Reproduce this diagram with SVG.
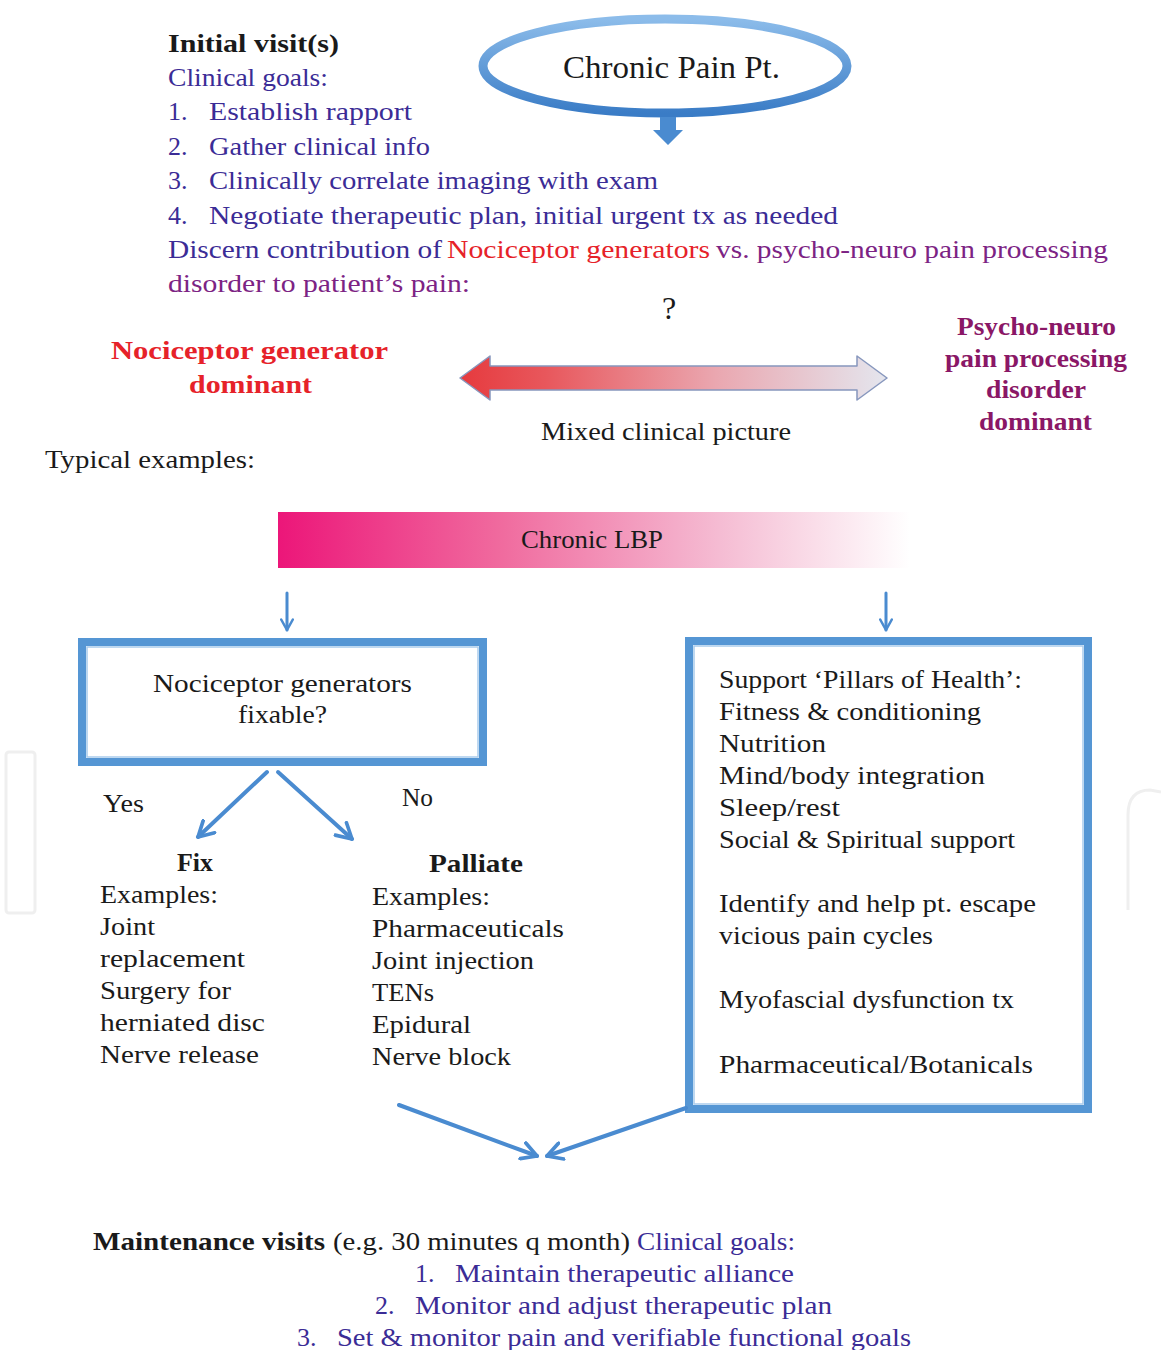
<svg xmlns="http://www.w3.org/2000/svg" width="1161" height="1350" viewBox="0 0 1161 1350">
<style>
text{font-family:"Liberation Serif","DejaVu Serif",serif;font-size:26px;fill:#1a1a1a}
.b{font-weight:bold}
.blue{fill:#3b2c96}
.red{fill:#e62229}
.pur{fill:#7c2384}
.mag{fill:#8a1766;font-weight:bold;font-size:25px}
.conn{stroke:#4a8bd0;fill:none;stroke-linecap:round}
</style>
<defs>
<linearGradient id="ellG" x1="0" y1="0" x2="0" y2="1">
<stop offset="0" stop-color="#8cbcea"/><stop offset="1" stop-color="#3a7cc6"/>
</linearGradient>
<linearGradient id="dblG" x1="0" y1="0" x2="1" y2="0">
<stop offset="0" stop-color="#e63a3e"/><stop offset="0.2" stop-color="#e8575c"/><stop offset="0.6" stop-color="#eaa7b0"/><stop offset="1" stop-color="#e4e6ee"/>
</linearGradient>
<linearGradient id="lbpG" x1="0" y1="0" x2="1" y2="0">
<stop offset="0" stop-color="#ec1679"/><stop offset="0.35" stop-color="#f06a9e"/><stop offset="0.7" stop-color="#f5bcd3"/><stop offset="1" stop-color="#ffffff"/>
</linearGradient>
<marker id="hs" viewBox="0 0 12 12" refX="10" refY="6" markerWidth="14" markerHeight="14" markerUnits="userSpaceOnUse" orient="auto">
<path d="M1,1 L10,6 L1,11" fill="none" stroke="#4a8bd0" stroke-width="2.2" stroke-linecap="round" stroke-linejoin="round"/>
</marker>
<marker id="hl" viewBox="0 0 12 12" refX="10" refY="6" markerWidth="20" markerHeight="20" markerUnits="userSpaceOnUse" orient="auto">
<path d="M1,1 L10,6 L1,11" fill="none" stroke="#4a8bd0" stroke-width="2.2" stroke-linecap="round" stroke-linejoin="round"/>
</marker>
</defs>
<rect width="1161" height="1350" fill="#ffffff"/>

<!-- faint watermark shapes -->
<rect x="6" y="752" width="29" height="161" rx="3" fill="none" stroke="#efefef" stroke-width="3"/>
<path d="M1128,910 L1128,815 Q1128,790 1150,790 L1161,792" fill="none" stroke="#efefef" stroke-width="3"/>

<g id="intro">
<text class="b" x="168" y="52" textLength="171" lengthAdjust="spacingAndGlyphs">Initial visit(s)</text>
<text class="blue" x="168" y="86" textLength="160" lengthAdjust="spacingAndGlyphs">Clinical goals:</text>
<text class="blue" x="168" y="120">1.</text>
<text class="blue" x="209" y="120" textLength="203" lengthAdjust="spacingAndGlyphs">Establish rapport</text>
<text class="blue" x="168" y="155">2.</text>
<text class="blue" x="209" y="155" textLength="221" lengthAdjust="spacingAndGlyphs">Gather clinical info</text>
<text class="blue" x="168" y="189">3.</text>
<text class="blue" x="209" y="189" textLength="449" lengthAdjust="spacingAndGlyphs">Clinically correlate imaging with exam</text>
<text class="blue" x="168" y="224">4.</text>
<text class="blue" x="209" y="224" textLength="629" lengthAdjust="spacingAndGlyphs">Negotiate therapeutic plan, initial urgent tx as needed</text>
<text class="blue" x="168" y="258" textLength="274" lengthAdjust="spacingAndGlyphs">Discern contribution of</text>
<text class="red" x="447" y="258" textLength="263" lengthAdjust="spacingAndGlyphs">Nociceptor generators</text>
<text class="pur" x="716" y="258" textLength="392" lengthAdjust="spacingAndGlyphs">vs. psycho-neuro pain processing</text>
<text class="pur" x="168" y="292" textLength="302" lengthAdjust="spacingAndGlyphs">disorder to patient’s pain:</text>
<text x="662" y="319" style="font-size:32px">?</text>
</g>

<g id="chronic-pain-pt">
<ellipse cx="665" cy="66" rx="182" ry="47" fill="#ffffff" stroke="url(#ellG)" stroke-width="9"/>
<text x="563" y="78" textLength="217" lengthAdjust="spacingAndGlyphs" style="font-size:31px">Chronic Pain Pt.</text>
</g>

<g id="nociceptor-dominant">
<text class="b red" x="111" y="359" textLength="277" lengthAdjust="spacingAndGlyphs">Nociceptor generator</text>
<text class="b red" x="189" y="393" textLength="123" lengthAdjust="spacingAndGlyphs">dominant</text>
</g>

<g id="psycho-neuro-dominant">
<text class="mag" x="957" y="335" textLength="159" lengthAdjust="spacingAndGlyphs">Psycho-neuro</text>
<text class="mag" x="945" y="367" textLength="182" lengthAdjust="spacingAndGlyphs">pain processing</text>
<text class="mag" x="986" y="398" textLength="100" lengthAdjust="spacingAndGlyphs">disorder</text>
<text class="mag" x="979" y="430" textLength="113" lengthAdjust="spacingAndGlyphs">dominant</text>
</g>

<g id="spectrum">
<path d="M460,378 L490,356 L490,366 L857,366 L857,356 L887,378 L857,400 L857,390 L490,390 L490,400 Z" fill="url(#dblG)" stroke="#8797bd" stroke-width="1.5" stroke-linejoin="round"/>
<text x="541" y="440" textLength="250" lengthAdjust="spacingAndGlyphs">Mixed clinical picture</text>
</g>

<text x="45" y="468" textLength="210" lengthAdjust="spacingAndGlyphs">Typical examples:</text>

<g id="chronic-lbp">
<rect x="278" y="512" width="632" height="56" fill="url(#lbpG)"/>
<text x="521" y="548" textLength="142" lengthAdjust="spacingAndGlyphs" style="font-size:25px">Chronic LBP</text>
</g>

<g id="fixable-box">
<rect x="82" y="642" width="401" height="120" fill="#ffffff" stroke="#5596d4" stroke-width="8"/>
<rect x="87" y="647" width="391" height="110" fill="none" stroke="#a9cbec" stroke-width="1.5"/>
<text x="153" y="692" textLength="259" lengthAdjust="spacingAndGlyphs" style="font-size:25px">Nociceptor generators</text>
<text x="238" y="723" textLength="89" lengthAdjust="spacingAndGlyphs" style="font-size:25px">fixable?</text>
</g>

<g id="labels">
<text x="103" y="812" textLength="41" lengthAdjust="spacingAndGlyphs" style="font-size:25px">Yes</text>
<text x="402" y="806" textLength="31" lengthAdjust="spacingAndGlyphs" style="font-size:25px">No</text>
</g>

<g id="fix">
<text class="b" x="177" y="871" textLength="36" lengthAdjust="spacingAndGlyphs" style="font-size:25px">Fix</text>
<text x="100" y="903" textLength="118" lengthAdjust="spacingAndGlyphs" style="font-size:25px">Examples:</text>
<text x="100" y="935" textLength="55" lengthAdjust="spacingAndGlyphs" style="font-size:25px">Joint</text>
<text x="100" y="967" textLength="145" lengthAdjust="spacingAndGlyphs" style="font-size:25px">replacement</text>
<text x="100" y="999" textLength="131" lengthAdjust="spacingAndGlyphs" style="font-size:25px">Surgery for</text>
<text x="100" y="1031" textLength="165" lengthAdjust="spacingAndGlyphs" style="font-size:25px">herniated disc</text>
<text x="100" y="1063" textLength="159" lengthAdjust="spacingAndGlyphs" style="font-size:25px">Nerve release</text>
</g>

<g id="palliate">
<text class="b" x="429" y="872" textLength="94" lengthAdjust="spacingAndGlyphs" style="font-size:25px">Palliate</text>
<text x="372" y="905" textLength="118" lengthAdjust="spacingAndGlyphs" style="font-size:25px">Examples:</text>
<text x="372" y="937" textLength="192" lengthAdjust="spacingAndGlyphs" style="font-size:25px">Pharmaceuticals</text>
<text x="372" y="969" textLength="162" lengthAdjust="spacingAndGlyphs" style="font-size:25px">Joint injection</text>
<text x="372" y="1001" textLength="62" lengthAdjust="spacingAndGlyphs" style="font-size:25px">TENs</text>
<text x="372" y="1033" textLength="99" lengthAdjust="spacingAndGlyphs" style="font-size:25px">Epidural</text>
<text x="372" y="1065" textLength="139" lengthAdjust="spacingAndGlyphs" style="font-size:25px">Nerve block</text>
</g>

<g id="pillars-box">
<rect x="689" y="641" width="399" height="468" fill="#ffffff" stroke="#5596d4" stroke-width="8"/>
<rect x="694" y="646" width="389" height="458" fill="none" stroke="#a9cbec" stroke-width="1.5"/>
<text x="719" y="688" textLength="303" lengthAdjust="spacingAndGlyphs" style="font-size:25px">Support ‘Pillars of Health’:</text>
<text x="719" y="720" textLength="262" lengthAdjust="spacingAndGlyphs" style="font-size:25px">Fitness &amp; conditioning</text>
<text x="719" y="752" textLength="107" lengthAdjust="spacingAndGlyphs" style="font-size:25px">Nutrition</text>
<text x="719" y="784" textLength="266" lengthAdjust="spacingAndGlyphs" style="font-size:25px">Mind/body integration</text>
<text x="719" y="816" textLength="121" lengthAdjust="spacingAndGlyphs" style="font-size:25px">Sleep/rest</text>
<text x="719" y="848" textLength="296" lengthAdjust="spacingAndGlyphs" style="font-size:25px">Social &amp; Spiritual support</text>
<text x="719" y="912" textLength="317" lengthAdjust="spacingAndGlyphs" style="font-size:25px">Identify and help pt. escape</text>
<text x="719" y="944" textLength="214" lengthAdjust="spacingAndGlyphs" style="font-size:25px">vicious pain cycles</text>
<text x="719" y="1008" textLength="295" lengthAdjust="spacingAndGlyphs" style="font-size:25px">Myofascial dysfunction tx</text>
<text x="719" y="1073" textLength="314" lengthAdjust="spacingAndGlyphs" style="font-size:25px">Pharmaceutical/Botanicals</text>
</g>

<g id="maintenance">
<text class="b" x="93" y="1250" textLength="232" lengthAdjust="spacingAndGlyphs">Maintenance visits</text>
<text x="333" y="1250" textLength="297" lengthAdjust="spacingAndGlyphs">(e.g. 30 minutes q month)</text>
<text class="blue" x="637" y="1250" textLength="158" lengthAdjust="spacingAndGlyphs">Clinical goals:</text>
<text class="blue" x="415" y="1282">1.</text>
<text class="blue" x="455" y="1282" textLength="339" lengthAdjust="spacingAndGlyphs">Maintain therapeutic alliance</text>
<text class="blue" x="375" y="1314">2.</text>
<text class="blue" x="415" y="1314" textLength="417" lengthAdjust="spacingAndGlyphs">Monitor and adjust therapeutic plan</text>
<text class="blue" x="297" y="1346">3.</text>
<text class="blue" x="337" y="1346" textLength="574" lengthAdjust="spacingAndGlyphs">Set &amp; monitor pain and verifiable functional goals</text>
</g>

<g id="connectors">
<path d="M660,117 L676,117 L676,130 L683,130 L668,145 L653,130 L660,130 Z" fill="#4a8bd0"/>
<line class="conn" x1="287" y1="593" x2="287" y2="630" stroke-width="3" marker-end="url(#hs)"/>
<line class="conn" x1="886" y1="593" x2="886" y2="630" stroke-width="3" marker-end="url(#hs)"/>
<line class="conn" x1="267" y1="772" x2="198" y2="837" stroke-width="4" marker-end="url(#hl)"/>
<line class="conn" x1="278" y1="772" x2="352" y2="839" stroke-width="4" marker-end="url(#hl)"/>
<line class="conn" x1="399" y1="1105" x2="537" y2="1156" stroke-width="4" marker-end="url(#hl)"/>
<line class="conn" x1="686" y1="1108" x2="547" y2="1156" stroke-width="4" marker-end="url(#hl)"/>
</g>
</svg>
